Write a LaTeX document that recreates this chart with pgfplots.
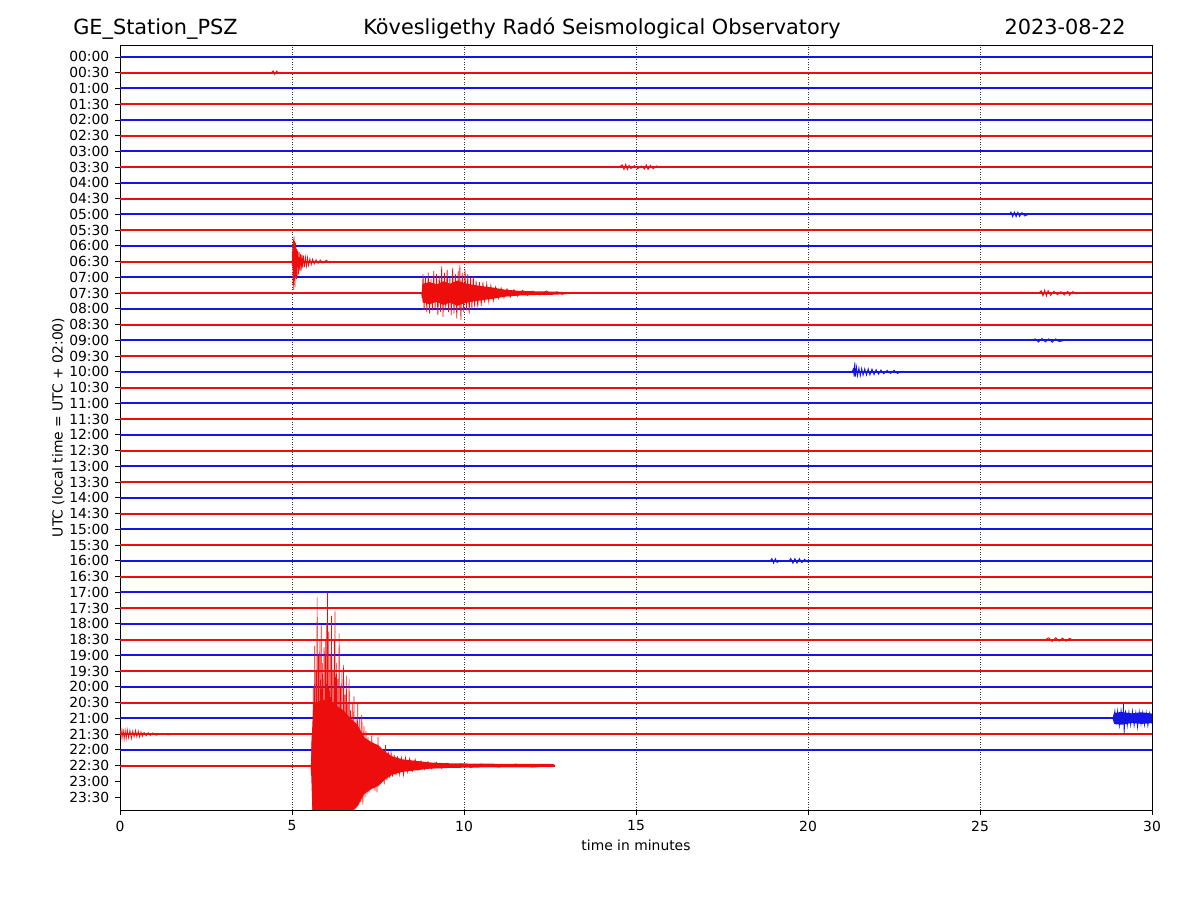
\documentclass[border=0pt]{standalone}
\usepackage{pgfplots}
\pgfplotsset{compat=1.18}
\usepackage{fontspec}
\setmainfont{DejaVu Sans}
\definecolor{trb}{rgb}{0.08,0.08,0.9}
\definecolor{trr}{rgb}{0.93,0.05,0.05}
\begin{document}
\begin{tikzpicture}
\useasboundingbox (0,0) rectangle (720pt,540pt);
\node[anchor=base west,inner sep=0pt,font=\fontsize{12.5}{15}\selectfont] at (43.8pt,519pt) {GE\_Station\_PSZ};
\node[anchor=base,inner sep=0pt,font=\fontsize{12.5}{15}\selectfont] at (361.2pt,519pt) {Kövesligethy Radó Seismological Observatory};
\node[anchor=base east,inner sep=0pt,font=\fontsize{12.5}{15}\selectfont] at (675.6pt,519pt) {2023-08-22};
\begin{axis}[
  at={(72pt,54pt)}, anchor=south west, scale only axis,
  width=619.2pt, height=459pt,
  xmin=0, xmax=30, ymin=-47.82, ymax=0.76,
  xtick={0,5,10,15,20,25,30}, xticklabels={0,5,10,15,20,25,30},
  ytick={0,-1,...,-47},
  yticklabels={00:00,00:30,01:00,01:30,02:00,02:30,03:00,03:30,04:00,04:30,05:00,05:30,06:00,06:30,07:00,07:30,08:00,08:30,09:00,09:30,10:00,10:30,11:00,11:30,12:00,12:30,13:00,13:30,14:00,14:30,15:00,15:30,16:00,16:30,17:00,17:30,18:00,18:30,19:00,19:30,20:00,20:30,21:00,21:30,22:00,22:30,23:00,23:30},
  xtick pos=bottom, ytick pos=left,
  tick align=outside, major tick length=2.9pt,
  tick style={black, line width=0.5pt},
  axis line style={line width=0.5pt},
  ticklabel style={font=\fontsize{8.33}{10}\selectfont},
  xlabel={time in minutes}, ylabel={UTC (local time = UTC + 02:00)},
  label style={font=\fontsize{8.33}{10}\selectfont},
  ylabel style={yshift=-4pt},
  xlabel style={yshift=1.8pt},
  xmajorgrids, major grid style={black!80, line width=0.4pt, dash pattern=on 0.5pt off 1pt},
  every axis plot/.append style={line width=1.2pt},
]
% baselines (trace level of each 30-min line)
\addplot[trb] coordinates {(0,0) (30,0)};
\addplot[trr] coordinates {(0,-1) (30,-1)};
\addplot[trb] coordinates {(0,-2) (30,-2)};
\addplot[trr] coordinates {(0,-3) (30,-3)};
\addplot[trb] coordinates {(0,-4) (30,-4)};
\addplot[trr] coordinates {(0,-5) (30,-5)};
\addplot[trb] coordinates {(0,-6) (30,-6)};
\addplot[trr] coordinates {(0,-7) (30,-7)};
\addplot[trb] coordinates {(0,-8) (30,-8)};
\addplot[trr] coordinates {(0,-9) (30,-9)};
\addplot[trb] coordinates {(0,-10) (30,-10)};
\addplot[trr] coordinates {(0,-11) (30,-11)};
\addplot[trb] coordinates {(0,-12) (30,-12)};
\addplot[trr] coordinates {(0,-13) (30,-13)};
\addplot[trb] coordinates {(0,-14) (30,-14)};
\addplot[trr] coordinates {(0,-15) (30,-15)};
\addplot[trb] coordinates {(0,-16) (30,-16)};
\addplot[trr] coordinates {(0,-17) (30,-17)};
\addplot[trb] coordinates {(0,-18) (30,-18)};
\addplot[trr] coordinates {(0,-19) (30,-19)};
\addplot[trb] coordinates {(0,-20) (30,-20)};
\addplot[trr] coordinates {(0,-21) (30,-21)};
\addplot[trb] coordinates {(0,-22) (30,-22)};
\addplot[trr] coordinates {(0,-23) (30,-23)};
\addplot[trb] coordinates {(0,-24) (30,-24)};
\addplot[trr] coordinates {(0,-25) (30,-25)};
\addplot[trb] coordinates {(0,-26) (30,-26)};
\addplot[trr] coordinates {(0,-27) (30,-27)};
\addplot[trb] coordinates {(0,-28) (30,-28)};
\addplot[trr] coordinates {(0,-29) (30,-29)};
\addplot[trb] coordinates {(0,-30) (30,-30)};
\addplot[trr] coordinates {(0,-31) (30,-31)};
\addplot[trb] coordinates {(0,-32) (30,-32)};
\addplot[trr] coordinates {(0,-33) (30,-33)};
\addplot[trb] coordinates {(0,-34) (30,-34)};
\addplot[trr] coordinates {(0,-35) (30,-35)};
\addplot[trb] coordinates {(0,-36) (30,-36)};
\addplot[trr] coordinates {(0,-37) (30,-37)};
\addplot[trb] coordinates {(0,-38) (30,-38)};
\addplot[trr] coordinates {(0,-39) (30,-39)};
\addplot[trb] coordinates {(0,-40) (30,-40)};
\addplot[trr] coordinates {(0,-41) (30,-41)};
\addplot[trb] coordinates {(0,-42) (30,-42)};
\addplot[trr] coordinates {(0,-43) (30,-43)};
\addplot[trb] coordinates {(0,-44) (30,-44)};
\addplot[trr] coordinates {(0,-45) (12.65,-45)};
% 00:30 small blip
\addplot[trr, line width=0.5pt] coordinates {(4.40,-1) (4.45,-0.88) (4.5,-1.12) (4.55,-0.9) (4.6,-1)};
% 03:30 small event
\addplot[trr, line width=0.5pt] coordinates {(14.5,-7) (14.6,-6.85) (14.65,-7.15) (14.7,-6.82) (14.75,-7.15) (14.8,-6.88) (14.85,-7.1) (14.95,-6.9) (15.05,-7.1) (15.15,-6.92) (15.25,-7.12) (15.3,-6.85) (15.35,-7.15) (15.42,-6.88) (15.5,-7.1) (15.6,-6.92) (15.7,-7)};
% 05:00 small event
\addplot[trb, line width=0.5pt] coordinates {(25.85,-10) (25.9,-9.85) (25.95,-10.15) (26.0,-9.85) (26.05,-10.15) (26.1,-9.86) (26.15,-10.13) (26.22,-9.88) (26.3,-10.1) (26.4,-10)};
% 06:30 event
\addplot[trr, line width=0.4pt] coordinates {(4.95,-13) (5.00,-12.95) (5.01,-13.3) (5.02,-11.9) (5.03,-14.5) (5.04,-11.6) (5.05,-14.8) (5.06,-11.4) (5.07,-14.2) (5.08,-11.7) (5.09,-14.6) (5.10,-11.8) (5.11,-14.0) (5.12,-12.1) (5.13,-14.1) (5.14,-12.2) (5.15,-13.9) (5.17,-12.3) (5.19,-13.8) (5.21,-12.4) (5.23,-13.6) (5.25,-12.5) (5.27,-13.55) (5.29,-12.55) (5.31,-13.4) (5.33,-12.6) (5.36,-13.35) (5.39,-12.7) (5.42,-13.3) (5.45,-12.72) (5.48,-13.25) (5.52,-12.8) (5.56,-13.2) (5.60,-12.82) (5.65,-13.15) (5.70,-12.86) (5.76,-13.12) (5.82,-12.88) (5.90,-13.1) (6.0,-12.9) (6.1,-13.08) (6.2,-13)};
% 07:30 event: core and oscillation
\addplot[trr, draw=none, fill=trr] coordinates {(8.77,-15) (8.8,-14.4) (9.0,-14.3) (9.2,-14.45) (9.4,-14.25) (9.6,-14.4) (9.8,-14.2) (10.0,-14.35) (10.2,-14.45) (10.5,-14.55) (10.85,-14.65) (11.2,-14.78) (11.6,-14.85) (12.0,-14.88) (12.6,-14.9) (13.0,-14.94) (13.05,-15) (13.0,-15.06) (12.6,-15.1) (12.0,-15.12) (11.6,-15.15) (11.2,-15.22) (10.85,-15.35) (10.5,-15.45) (10.2,-15.55) (10.0,-15.65) (9.8,-15.8) (9.6,-15.6) (9.4,-15.75) (9.2,-15.55) (9.0,-15.7) (8.8,-15.6) (8.77,-15)};
\addplot[trr, line width=0.4pt] coordinates {(8.77,-15) (8.78,-15.3) (8.81,-13.8) (8.84,-16.1) (8.88,-14.0) (8.92,-16.2) (8.96,-13.7) (9.00,-16.3) (9.04,-14.1) (9.08,-16.1) (9.12,-13.6) (9.16,-16.0) (9.20,-13.8) (9.24,-16.4) (9.28,-13.9) (9.32,-16.2) (9.35,-13.3) (9.39,-16.5) (9.43,-13.7) (9.47,-16.1) (9.51,-13.5) (9.55,-16.2) (9.59,-14.0) (9.63,-16.4) (9.67,-13.4) (9.71,-16.3) (9.75,-13.8) (9.79,-16.6) (9.83,-13.6) (9.86,-16.0) (9.88,-13.2) (9.91,-16.7) (9.95,-13.7) (9.99,-16.2) (10.03,-13.5) (10.07,-16.1) (10.11,-13.8) (10.15,-16.3) (10.19,-14.0) (10.23,-16.0) (10.27,-13.9) (10.31,-15.9) (10.35,-14.2) (10.40,-15.9) (10.45,-14.3) (10.50,-15.8) (10.55,-14.3) (10.60,-15.6) (10.66,-14.4) (10.72,-15.55) (10.78,-14.5) (10.85,-15.5) (10.92,-14.6) (11.0,-15.35) (11.08,-14.67) (11.16,-15.3) (11.25,-14.72) (11.35,-15.25) (11.45,-14.78) (11.55,-15.2) (11.7,-14.82) (11.85,-15.15) (12.0,-14.86) (12.2,-15.12) (12.4,-14.85) (12.55,-15.1) (12.7,-14.9) (12.85,-15.08) (13.0,-14.95) (13.1,-15)};
\addplot[trr, line width=0.5pt] coordinates {(26.7,-15) (26.78,-14.85) (26.83,-15.18) (26.88,-14.8) (26.93,-15.18) (26.98,-14.84) (27.05,-15.15) (27.15,-14.88) (27.25,-15.1) (27.35,-14.9) (27.45,-15.12) (27.55,-14.88) (27.6,-15.13) (27.7,-14.9) (27.8,-15.05) (27.9,-15)};
% 09:00 small event
\addplot[trb, line width=0.5pt] coordinates {(26.5,-18) (26.6,-17.9) (26.7,-18.1) (26.8,-17.88) (26.9,-18.1) (27.0,-17.9) (27.1,-18.12) (27.2,-17.9) (27.3,-18.08) (27.45,-18)};
% 10:00 event
\addplot[trb, line width=0.5pt] coordinates {(21.28,-20) (21.32,-19.8) (21.34,-20.3) (21.36,-19.4) (21.38,-20.3) (21.41,-19.7) (21.44,-20.25) (21.48,-19.75) (21.52,-20.25) (21.56,-19.78) (21.6,-20.22) (21.65,-19.8) (21.7,-20.2) (21.75,-19.8) (21.8,-20.2) (21.86,-19.82) (21.92,-20.18) (21.98,-19.85) (22.05,-20.15) (22.12,-19.88) (22.2,-20.12) (22.3,-19.9) (22.4,-20.1) (22.5,-19.9) (22.6,-20.1) (22.7,-20)};
% 16:00 small events
\addplot[trb, line width=0.5pt] coordinates {(18.9,-32) (18.95,-31.85) (19.0,-32.15) (19.05,-31.86) (19.1,-32.1) (19.2,-32) (19.45,-32) (19.5,-31.84) (19.56,-32.16) (19.62,-31.85) (19.68,-32.15) (19.75,-31.86) (19.82,-32.12) (19.9,-31.9) (20.0,-32.08) (20.1,-32)};
% 18:30 small event
\addplot[trr, line width=0.5pt] coordinates {(26.9,-37) (27.0,-36.88) (27.1,-37.12) (27.2,-36.88) (27.3,-37.1) (27.4,-36.9) (27.5,-37.1) (27.6,-36.92) (27.75,-37.05) (27.9,-37)};
% 21:00 event
\addplot[trb, draw=none, fill=trb] coordinates {(28.85,-42) (28.9,-41.65) (29.1,-41.6) (29.4,-41.68) (29.7,-41.62) (30,-41.7) (30,-42.3) (29.7,-42.35) (29.4,-42.3) (29.1,-42.4) (28.9,-42.35) (28.85,-42)};
\addplot[trb, line width=0.4pt] coordinates {(28.85,-42) (28.88,-42) (28.92,-41.5) (28.96,-42.4) (29.0,-41.5) (29.05,-42.5) (29.1,-41.45) (29.15,-42.4) (29.17,-41.1) (29.19,-42.95) (29.23,-41.5) (29.28,-42.5) (29.33,-41.55) (29.38,-42.45) (29.43,-41.5) (29.48,-42.5) (29.53,-41.6) (29.58,-42.6) (29.63,-41.55) (29.68,-42.4) (29.73,-41.6) (29.78,-42.45) (29.83,-41.6) (29.88,-42.5) (29.93,-41.65) (30,-42.35)};
% 21:30 event
\addplot[trr, line width=0.4pt] coordinates {(0,-43) (0.03,-42.7) (0.06,-43.3) (0.09,-42.65) (0.12,-43.35) (0.15,-42.75) (0.18,-43.3) (0.21,-42.7) (0.25,-43.25) (0.29,-42.75) (0.33,-43.3) (0.37,-42.8) (0.41,-43.2) (0.45,-42.75) (0.49,-43.2) (0.53,-42.8) (0.57,-43.2) (0.61,-42.85) (0.65,-43.15) (0.70,-42.88) (0.76,-43.12) (0.82,-42.9) (0.88,-43.1) (0.95,-42.92) (1.05,-43.08) (1.2,-42.95) (1.4,-43.05) (1.6,-43)};
% 22:30 large event: core and oscillation
\addplot[trr, draw=none, fill=trr] coordinates {(5.55,-45) (5.58,-43) (5.62,-41) (5.7,-41) (5.9,-40.8) (6.1,-41) (6.3,-41.2) (6.5,-41.5) (6.7,-42) (6.9,-42.4) (7.1,-43.2) (7.3,-43.5) (7.5,-43.7) (7.7,-44.1) (7.9,-44.4) (8.2,-44.6) (8.6,-44.7) (9.0,-44.8) (9.5,-44.85) (10.5,-44.88) (12.6,-44.9) (12.65,-45) (12.6,-45.1) (10.5,-45.12) (9.5,-45.15) (9.0,-45.2) (8.6,-45.3) (8.2,-45.4) (7.9,-45.6) (7.7,-45.9) (7.5,-46.3) (7.3,-46.5) (7.1,-46.8) (6.9,-47.6) (6.7,-48) (6.5,-48.5) (6.3,-48.8) (6.1,-49) (5.9,-49.2) (5.7,-49) (5.62,-49) (5.58,-47) (5.55,-45)};
\addplot[trr, line width=0.4pt] coordinates {(5.55,-45) (5.56,-45.5) (5.58,-43.1) (5.60,-48) (5.62,-40) (5.64,-51) (5.66,-37.4) (5.68,-50) (5.70,-39) (5.72,-52) (5.73,-34.3) (5.75,-51) (5.77,-38) (5.79,-53) (5.81,-37) (5.83,-51) (5.85,-36.1) (5.87,-52) (5.89,-38.5) (5.91,-53) (5.93,-37.5) (5.95,-51) (5.97,-37) (5.99,-52) (6.01,-36) (6.02,-53) (6.03,-34) (6.05,-52) (6.07,-36.5) (6.09,-53) (6.11,-38) (6.13,-51) (6.15,-35.5) (6.17,-52) (6.19,-39) (6.21,-53) (6.23,-37) (6.24,-51) (6.25,-35.2) (6.27,-52) (6.29,-38.5) (6.31,-51) (6.33,-39.5) (6.35,-50) (6.37,-36.6) (6.39,-51) (6.41,-40) (6.43,-50) (6.45,-39) (6.47,-49.5) (6.50,-38.6) (6.52,-49) (6.54,-40.5) (6.56,-49) (6.58,-39.3) (6.60,-49) (6.62,-41) (6.64,-48.5) (6.66,-39.5) (6.68,-48.5) (6.70,-41.5) (6.72,-48) (6.75,-41) (6.78,-48) (6.80,-40.6) (6.83,-47.8) (6.86,-42) (6.89,-47.5) (6.91,-41) (6.94,-47.5) (6.97,-42.0) (7.00,-47.3) (7.03,-41.8) (7.06,-47.5) (7.09,-42.5) (7.12,-47.0) (7.15,-42.8) (7.18,-46.8) (7.21,-43.2) (7.24,-46.7) (7.27,-43.5) (7.30,-46.5) (7.32,-43.1) (7.35,-46.4) (7.38,-43.6) (7.41,-46.6) (7.44,-43.7) (7.47,-46.7) (7.50,-43.2) (7.53,-46.3) (7.56,-43.8) (7.60,-46.1) (7.64,-44.0) (7.68,-46.2) (7.72,-43.7) (7.76,-45.9) (7.80,-44.1) (7.84,-45.8) (7.88,-44.1) (7.92,-45.7) (7.97,-44.3) (8.02,-45.6) (8.07,-44.4) (8.12,-45.55) (8.18,-44.5) (8.24,-45.6) (8.30,-44.5) (8.36,-45.4) (8.42,-44.55) (8.50,-45.35) (8.58,-44.6) (8.66,-45.3) (8.75,-44.7) (8.85,-45.25) (8.95,-44.75) (9.05,-45.2) (9.2,-44.8) (9.35,-45.18) (9.5,-44.84) (9.7,-45.14) (9.9,-44.88) (10.2,-45.12) (10.5,-44.9) (11.0,-45.1) (11.5,-44.9) (12.0,-45.1) (12.65,-45)};
\end{axis}
\end{tikzpicture}
\end{document}
